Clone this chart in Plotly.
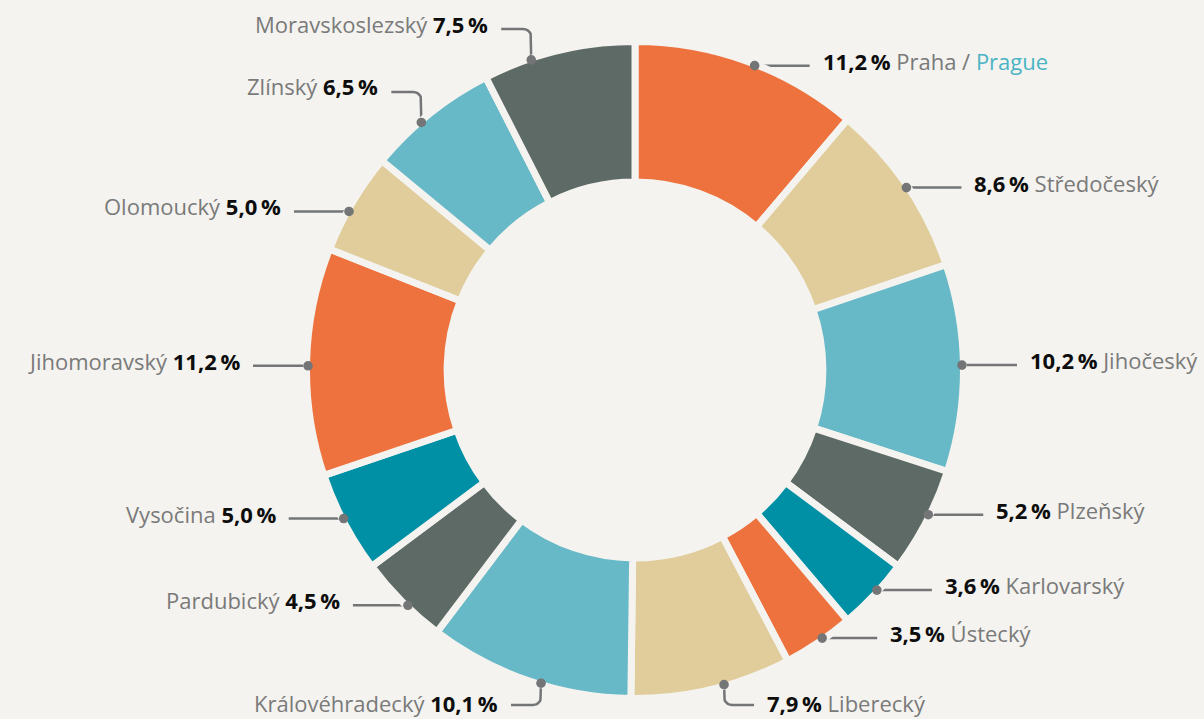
import math
import plotly.graph_objects as go

# ---------------- data ----------------
regions = ["Praha", "Středočeský", "Jihočeský", "Plzeňský", "Karlovarský", "Ústecký",
           "Liberecký", "Královéhradecký", "Pardubický", "Vysočina", "Jihomoravský",
           "Olomoucký", "Zlínský", "Moravskoslezský"]
shares = [11.2, 8.6, 10.2, 5.2, 3.6, 3.5, 7.9, 10.1, 4.5, 5.0, 11.2, 5.0, 6.5, 7.5]
english_names = {"Praha": "Prague"}

# ---------------- style / layout ----------------
W, H = 1204, 719
BG = "#f4f3ef"
CX, CY = 635, 370          # pie centre in pixels
R_OUT = 328.5              # pie radius incl. stroke
HOLE = 0.572
GAP = 7
DOT_R = 327
palette = ["#ed723e", "#e0cd9b", "#68b9c8", "#5d6a66", "#0090a6"]
colors = [palette[i % len(palette)] for i in range(len(regions))]
LEADER = "#737577"
NAME_COL = "#7a7a7a"
NUM_COL = "#0d0d0d"
EN_COL = "#4ab4c5"
FONT = "Open Sans"
FSIZE = 22

# label layout: style, side, angle nudge (deg), elbow level y (px), text dy (px)
label_layout = {
    "Praha":           ("h", "right", 1.3, None, -5),
    "Středočeský":     ("h", "right", 0.3, None, -5),
    "Jihočeský":       ("h", "right", -0.5, None, -5),
    "Plzeňský":        ("h", "right", -1.1, None, -5),
    "Karlovarský":     ("h", "right", -0.9, None, -5),
    "Ústecký":         ("h", "right", -0.9, None, -5),
    "Liberecký":       ("e", "right", -2.3, 705, -2),
    "Královéhradecký": ("e", "left", -2.2, 705, -2),
    "Pardubický":      ("h", "left", -1.2, None, -5),
    "Vysočina":        ("h", "left", 0.7, None, -5),
    "Jihomoravský":    ("h", "left", -0.7, None, -5),
    "Olomoucký":       ("h", "left", -1.6, None, -5),
    "Zlínský":         ("e", "left", -2.1, 92, -6),
    "Moravskoslezský": ("e", "left", -5.0, 29, -5),
}
H_LEN = 55     # straight leader length
E_LEN = 30     # horizontal part of elbow leader
CORNER = 8     # elbow corner radius
TEXT_GAP = 11

fig = go.Figure()

fig.add_trace(go.Pie(
    labels=regions, values=shares, sort=False, direction="clockwise", rotation=0,
    hole=HOLE, textinfo="none", hoverinfo="label+percent",
    marker=dict(colors=colors, line=dict(color=BG, width=GAP)),
    domain=dict(x=[(CX - R_OUT) / W, (CX + R_OUT) / W],
                y=[(H - CY - R_OUT) / H, (H - CY + R_OUT) / H]),
    showlegend=False,
))

total = sum(shares)
cum = 0.0
shapes = []
annotations = []
for name, val in zip(regions, shares):
    style, side, nudge, level, tdy = label_layout[name]
    mid = (cum + val / 2) / total * 360 + nudge
    cum += val
    a = math.radians(mid)
    dx = CX + DOT_R * math.sin(a)
    dy = CY - DOT_R * math.cos(a)
    sgn = 1 if side == "right" else -1

    if style == "h":
        xs = [dx, dx + sgn * H_LEN]
        ys = [dy, dy]
        ty = dy + tdy
    else:
        vdir = 1 if level > dy else -1
        xs = [dx, dx]
        ys = [dy, level - vdir * CORNER]
        cxr = dx + sgn * CORNER
        cyr = level - vdir * CORNER
        for k in range(1, 9):
            t = k / 8 * math.pi / 2
            xs.append(cxr - sgn * CORNER * math.cos(t))
            ys.append(cyr + vdir * CORNER * math.sin(t))
        xs.append(dx + sgn * E_LEN)
        ys.append(level)
        ty = level + tdy
    end_x = xs[-1]

    fig.add_trace(go.Scatter(x=xs, y=ys, mode="lines", hoverinfo="skip",
                             line=dict(color=LEADER, width=2.5), showlegend=False))
    shapes.append(dict(type="circle", xref="x", yref="y", layer="above",
                       x0=dx - 4.8, x1=dx + 4.8, y0=dy - 4.8, y1=dy + 4.8,
                       fillcolor=LEADER, line=dict(width=0)))

    pct = f"{val:.1f}".replace(".", ",") + "\u2009%"
    num = f"<b><span style='color:{NUM_COL}'>{pct}</span></b>"
    nm = name
    if name in english_names:
        nm = f"{name} / <span style='color:{EN_COL}'>{english_names[name]}</span>"
    if side == "right":
        txt = f"{num} {nm}"
        tx = end_x + TEXT_GAP
        anchor = "left"
    else:
        txt = f"{nm} {num}"
        tx = end_x - TEXT_GAP
        anchor = "right"
    annotations.append(dict(x=tx, y=ty, xref="x", yref="y", text=txt, showarrow=False,
                            xanchor=anchor, yanchor="middle",
                            font=dict(family=FONT, size=FSIZE, color=NAME_COL)))

fig.update_layout(
    width=W, height=H, margin=dict(l=0, r=0, t=0, b=0),
    paper_bgcolor=BG, plot_bgcolor=BG,
    xaxis=dict(range=[0, W], visible=False, fixedrange=True),
    yaxis=dict(range=[H, 0], visible=False, fixedrange=True),
    shapes=shapes, annotations=annotations, showlegend=False,
)

fig.write_html("out.html",
               config={"displayModeBar": False},
               post_script="document.body.style.margin='0';"
                           "document.body.style.background='" + BG + "';"
                           "document.body.style.overflow='hidden';")
